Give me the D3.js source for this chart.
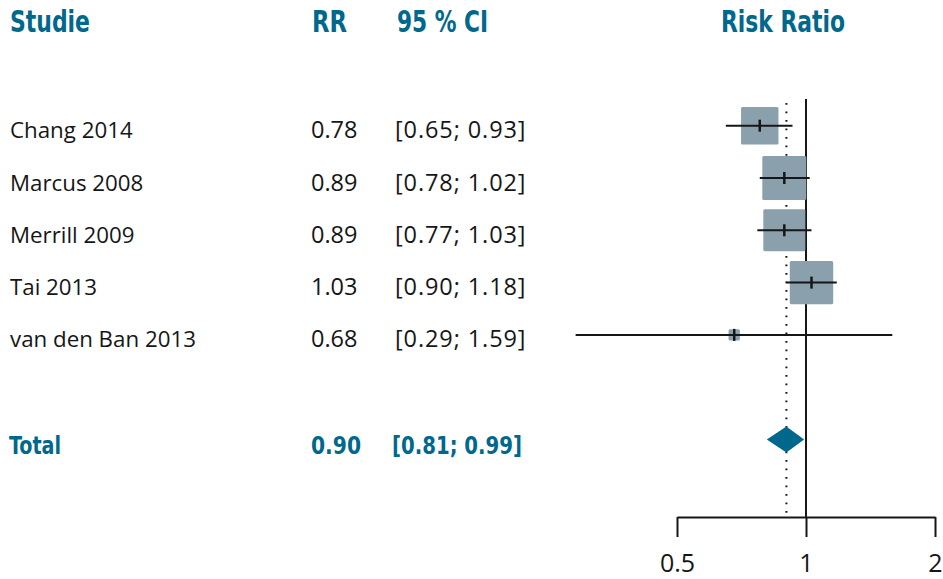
<!DOCTYPE html>
<html>
<head>
<meta charset="utf-8">
<script src="https://cdn.jsdelivr.net/npm/d3@7"></script>
<style>
  html, body { margin: 0; padding: 0; background: #fff; }
  svg { display: block; }
</style>
</head>
<body>
<svg id="chart" width="943" height="579"></svg>
<script>
// ---- data ----
const studies = ["Chang 2014", "Marcus 2008", "Merrill 2009", "Tai 2013", "van den Ban 2013"];
const rr      = [0.78, 0.89, 0.89, 1.03, 0.68];
const lower   = [0.65, 0.78, 0.77, 0.90, 0.29];
const upper   = [0.93, 1.02, 1.03, 1.18, 1.59];
const weights = [19.7, 27.2, 24.8, 26.5, 1.8];   // % weight (square area)
const totalLabel = "Total";
const totalRR = 0.90, totalLower = 0.81, totalUpper = 0.99;
const headers = ["Studie", "RR", "95 % CI", "Risk Ratio"];
const tickValues = [0.5, 1, 2];

// ---- setup ----
const teal = "#00688c";
const squareCol = "#8aa0ac";
const ink = "#161616";
const bodyFont = "'Open Sans', 'Noto Sans', sans-serif";
const headFont = "'DejaVu Sans Condensed', 'Liberation Sans Narrow', 'DejaVu Sans', sans-serif";
const f2 = d3.format(".2f");

const svg = d3.select("#chart");
const x = d3.scaleLog().domain([0.5, 2]).range([677, 935]);
const y = d3.scaleLinear().domain([0, 1]).range([125.7, 178]);
const size = d3.scaleSqrt().domain([0, d3.max(weights)]).range([0, 44]);

const axisY = 517;
const topY = 99;

// header
const headX = [10, 312, 397, 721];
const headW = [80, 35, 91, 124];
svg.selectAll("text.head").data(headers).join("text")
  .attr("class", "head")
  .attr("x", (d, i) => headX[i])
  .attr("y", y(-2) + 10.8)
  .attr("fill", teal)
  .attr("font-family", headFont)
  .attr("font-weight", "bold")
  .attr("font-size", 30)
  .attr("textLength", (d, i) => headW[i])
  .attr("lengthAdjust", "spacingAndGlyphs")
  .text(d => d);

// study rows text
const rows = studies.map((s, i) => ({s, rr: rr[i], lo: lower[i], hi: upper[i], w: weights[i], i}));
const tg = svg.append("g").attr("font-family", bodyFont).attr("fill", ink);
tg.selectAll("text.name").data(rows).join("text").attr("x", 10).attr("y", d => y(d.i) + 12.5)
  .attr("font-size", 22.3).text(d => d.s);
tg.selectAll("text.rr").data(rows).join("text").attr("x", 311).attr("y", d => y(d.i) + 12.5)
  .attr("font-size", 23.5).text(d => f2(d.rr));
tg.selectAll("text.ci").data(rows).join("text").attr("x", 395).attr("y", d => y(d.i) + 12.5)
  .attr("font-size", 23.5).attr("letter-spacing", 0.9)
  .text(d => "[" + f2(d.lo) + "; " + f2(d.hi) + "]");

// total row text
const totTexts = [totalLabel, f2(totalRR), "[" + f2(totalLower) + "; " + f2(totalUpper) + "]"];
const totX = [9, 311, 392];
const totW = [52, 50, 130];
svg.selectAll("text.tot").data(totTexts).join("text")
  .attr("class", "tot")
  .attr("x", (d, i) => totX[i])
  .attr("y", y(6) + 14)
  .attr("fill", teal)
  .attr("font-family", headFont)
  .attr("font-weight", "bold")
  .attr("font-size", 24)
  .attr("textLength", (d, i) => totW[i])
  .attr("lengthAdjust", "spacingAndGlyphs")
  .text(d => d);

// reference lines
svg.append("line")
  .attr("x1", x(1)).attr("x2", x(1)).attr("y1", topY).attr("y2", axisY)
  .attr("stroke", ink).attr("stroke-width", 2);
svg.append("line")
  .attr("x1", x(totalRR)).attr("x2", x(totalRR)).attr("y1", 103).attr("y2", axisY - 4)
  .attr("stroke", ink).attr("stroke-width", 2).attr("stroke-dasharray", "1.8 6.7");

// squares
svg.selectAll("rect.sq").data(rows).join("rect")
  .attr("class", "sq")
  .attr("x", d => x(d.rr) - size(d.w) / 2)
  .attr("y", d => y(d.i) - size(d.w) / 2)
  .attr("width", d => size(d.w))
  .attr("height", d => size(d.w))
  .attr("rx", 1.5)
  .attr("fill", squareCol);

// CI lines
svg.selectAll("line.ci").data(rows).join("line")
  .attr("x1", d => x(d.lo)).attr("x2", d => x(d.hi))
  .attr("y1", d => y(d.i)).attr("y2", d => y(d.i))
  .attr("stroke", ink).attr("stroke-width", 2);
svg.selectAll("line.pt").data(rows).join("line")
  .attr("x1", d => x(d.rr)).attr("x2", d => x(d.rr))
  .attr("y1", d => y(d.i) - 6).attr("y2", d => y(d.i) + 6)
  .attr("stroke", ink).attr("stroke-width", 2.5);

// diamond
const dy = y(6);
svg.append("path")
  .attr("d", `M${x(totalLower)},${dy} L${x(totalRR)},${dy - 13} L${x(totalUpper)},${dy} L${x(totalRR)},${dy + 13} Z`)
  .attr("fill", teal);

// axis
const axis = d3.axisBottom(x).tickValues(tickValues).tickFormat(d3.format("")).tickSize(20).tickSizeOuter(0).tickPadding(17);
const ag = svg.append("g").attr("transform", `translate(0,${axisY})`).call(axis);
ag.select(".domain").attr("stroke", ink).attr("stroke-width", 2);
ag.selectAll(".tick line").attr("stroke", ink).attr("stroke-width", 2);
ag.selectAll(".tick text").attr("fill", ink).attr("font-family", bodyFont).attr("font-size", 25);
</script>
</body>
</html>
